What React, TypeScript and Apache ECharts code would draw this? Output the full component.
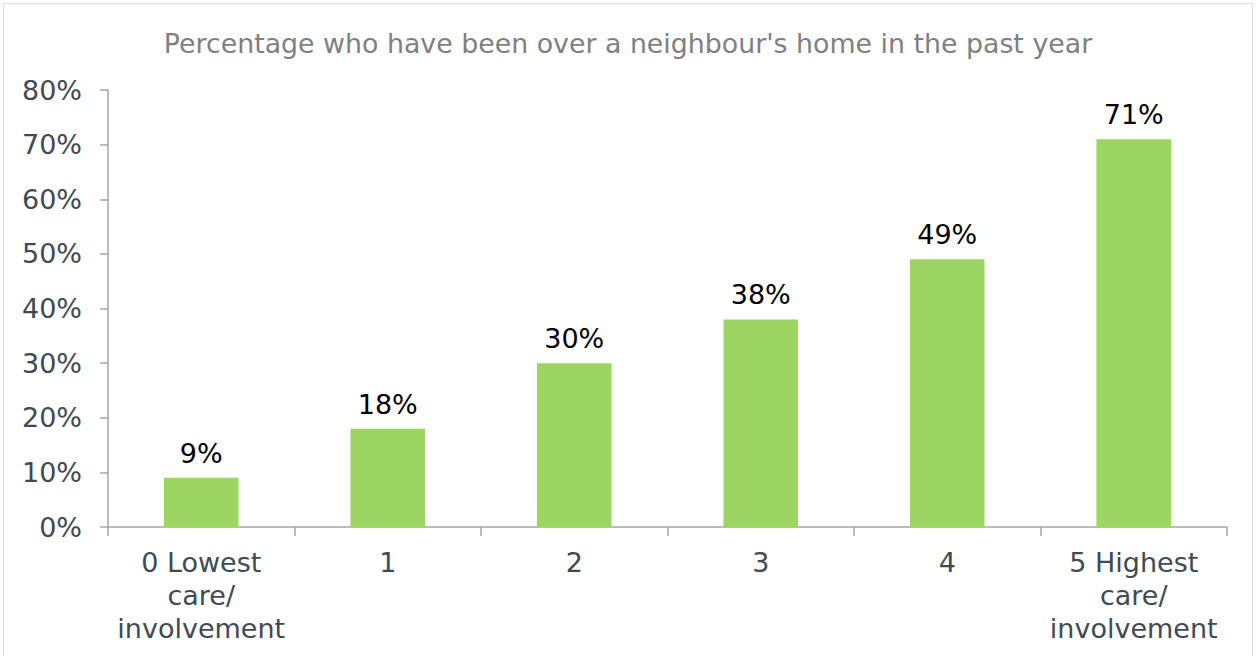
import React, { useEffect, useRef } from "react";
import * as echarts from "echarts";

const categories = ["0 Lowest\ncare/\ninvolvement", "1", "2", "3", "4", "5 Highest\ncare/\ninvolvement"];
const values = [9, 18, 30, 38, 49, 71];
const titleText = "Percentage who have been over a neighbour's home in the past year";

export default function App() {
  const ref = useRef<HTMLDivElement>(null);
  useEffect(() => {
    if (!ref.current) return;
    const chart = echarts.init(ref.current, null, { renderer: "svg" });
    const font = "DejaVu Sans, Verdana, sans-serif";
    chart.setOption({
      animation: false,
      backgroundColor: "#ffffff",
      title: {
        text: titleText,
        left: "center",
        top: 25,
        textStyle: { fontFamily: font, fontSize: 26.8, fontWeight: "normal", color: "#7f7f7f" },
      },
      graphic: [
        {
          type: "rect",
          shape: { x: 3.5, y: 3.5, width: 1249, height: 660 },
          style: { fill: "none", stroke: "#dcdcdc", lineWidth: 1 },
          silent: true,
        },
      ],
      grid: { left: 108, right: 29, top: 90, bottom: 129 },
      xAxis: {
        type: "category",
        data: categories,
        axisLine: { lineStyle: { color: "#a6a6a6", width: 1.5 } },
        axisTick: { show: true, length: 9, lineStyle: { color: "#a6a6a6", width: 1.5 } },
        axisLabel: {
          interval: 0,
          margin: 19,
          fontFamily: font,
          fontSize: 27,
          lineHeight: 33,
          color: "#404a52",
        },
      },
      yAxis: {
        type: "value",
        min: 0,
        max: 80,
        interval: 10,
        splitLine: { show: false },
        axisLine: { show: true, lineStyle: { color: "#a6a6a6", width: 1.5 } },
        axisTick: { show: true, length: 8, lineStyle: { color: "#a6a6a6", width: 1.5 } },
        axisLabel: {
          margin: 26,
          fontFamily: font,
          fontSize: 27,
          color: "#404a52",
          formatter: (v: number) => v + "%",
        },
      },
      series: [
        {
          type: "bar",
          data: values,
          barWidth: "40%",
          itemStyle: { color: "#9dd562" },
          label: {
            show: true,
            position: "top",
            distance: 11,
            fontFamily: font,
            fontSize: 27,
            color: "#000000",
            formatter: (p: any) => p.value + "%",
          },
        },
      ],
    });
    return () => chart.dispose();
  }, []);
  return (
    <div
      ref={ref}
      style={{ position: "fixed", left: 0, top: 0, width: 1256, height: 656 }}
    />
  );
}
